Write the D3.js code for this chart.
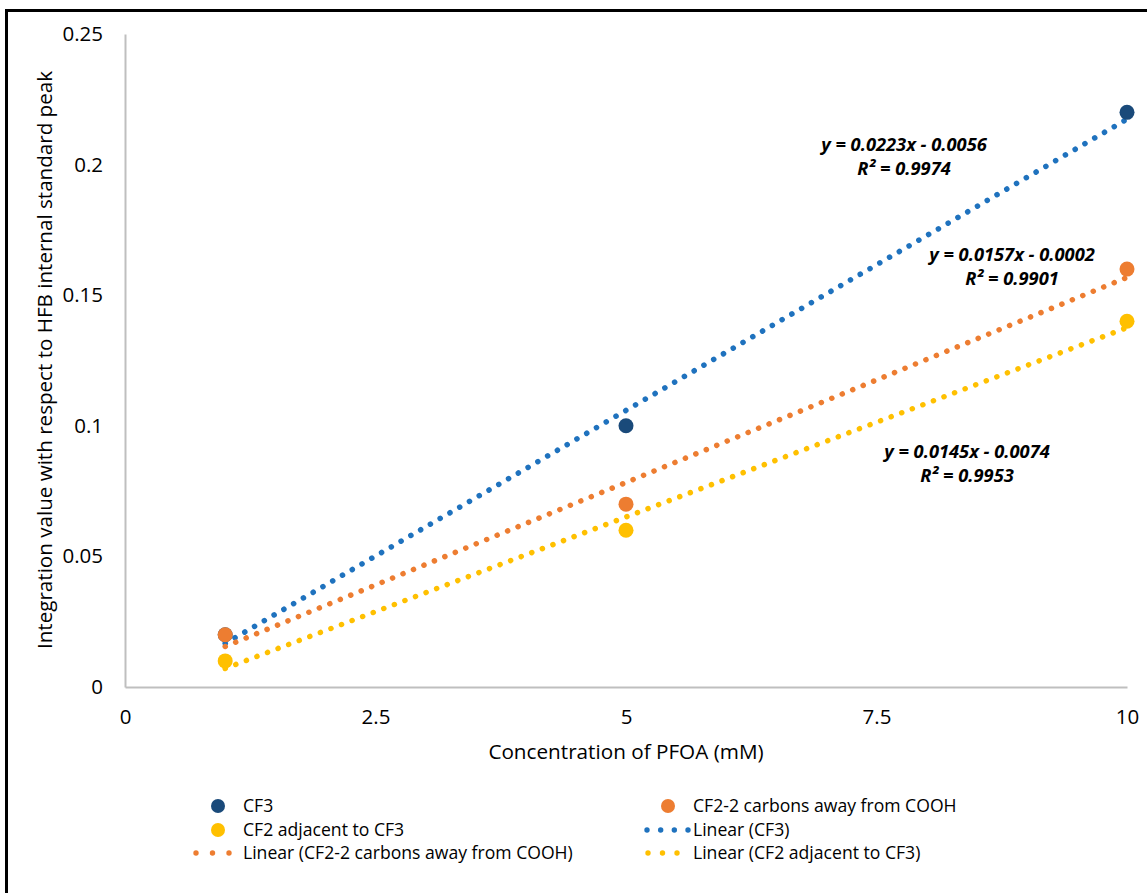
<!DOCTYPE html>
<html>
<head>
    <meta charset="utf-8">
    <title>PFOA calibration</title>
    <style type="text/css">
        body {
            margin: 0;
            background: #fff;
        }

        text {
            font-family: "Open Sans", Lato, "Noto Sans", sans-serif;
            fill: #000;
        }

        .eq {
            font-weight: bold;
            font-style: italic;
            font-size: 18.3px;
        }
    </style>
</head>
<body>
<script src="https://cdn.jsdelivr.net/npm/d3@7"></script>
<script type="text/javascript">
    // data
    var concentrations = [1, 5, 10];
    var cf3 = [0.02, 0.1, 0.22];
    var cf2Cooh = [0.02, 0.07, 0.16];
    var cf2Adj = [0.01, 0.06, 0.14];
    var xTicks = [0, 2.5, 5, 7.5, 10];
    var yTicks = [0, 0.05, 0.1, 0.15, 0.2, 0.25];

    // trendline fits as printed on the chart
    var fitSlopes = [0.0223, 0.0157, 0.0145];
    var fitIntercepts = [-0.0056, -0.0002, -0.0074];
    var fitLabels = [
        ["y = 0.0223x - 0.0056", "R\u00B2 = 0.9974"],
        ["y = 0.0157x - 0.0002", "R\u00B2 = 0.9901"],
        ["y = 0.0145x - 0.0074", "R\u00B2 = 0.9953"]
    ];

    var seriesNames = ["CF3", "CF2-2 carbons away from COOH", "CF2 adjacent to CF3"];
    var markerColors = ["#1a4a7a", "#ed7d31", "#ffc000"];
    var trendColors = ["#1f72be", "#ed7d31", "#ffc000"];

    var W = 1147, H = 893;
    var svg = d3.select("body").append("svg")
        .attr("width", W)
        .attr("height", H);

    // frame (image is cropped on the right and bottom)
    svg.append("path")
        .attr("d", "M6.5," + (H + 5) + "V10.5H" + (W + 5))
        .attr("fill", "none")
        .attr("stroke", "#000")
        .attr("stroke-width", 3);

    var x = d3.scaleLinear().domain([0, 10]).range([125, 1127]);
    var y = d3.scaleLinear().domain([0, 0.25]).range([687, 34]);

    // axes
    var xAxis = svg.append("g")
        .attr("transform", "translate(0," + y(0) + ")")
        .call(d3.axisBottom(x).tickValues(xTicks).tickSize(0).tickPadding(21)
            .tickFormat(function (d) { return d; }));
    var yAxis = svg.append("g")
        .attr("transform", "translate(" + x(0) + ",0)")
        .call(d3.axisLeft(y).tickValues(yTicks).tickSize(0).tickPadding(22)
            .tickFormat(function (d) { return d; }));
    [xAxis, yAxis].forEach(function (a) {
        a.select(".domain").attr("stroke", "#bfbfbf").attr("stroke-width", 2);
        a.selectAll("text").style("font-size", "20.5px")
            .style("font-family", "'Open Sans', Lato, sans-serif");
    });
    xAxis.selectAll("text").attr("dy", "0.8em");

    svg.append("text")
        .attr("x", 626).attr("y", 759)
        .attr("text-anchor", "middle")
        .style("font-size", "20.7px")
        .text("Concentration of PFOA (mM)");

    svg.append("text")
        .attr("transform", "translate(52,360) rotate(-90)")
        .attr("text-anchor", "middle")
        .style("font-size", "20.6px")
        .text("Integration value with respect to HFB internal standard peak");

    // trendlines (dotted)
    fitSlopes.forEach(function (m, i) {
        var b = fitIntercepts[i];
        var x0 = concentrations[0], x1 = concentrations[concentrations.length - 1];
        svg.append("line")
            .attr("x1", x(x0)).attr("y1", y(m * x0 + b))
            .attr("x2", x(x1)).attr("y2", y(m * x1 + b))
            .attr("stroke", trendColors[i])
            .attr("stroke-width", 5.5)
            .attr("stroke-linecap", "round")
            .attr("stroke-dasharray", "0.1 11.2");
    });

    // markers
    [cf3, cf2Cooh, cf2Adj].forEach(function (vals, i) {
        svg.append("g").selectAll("circle")
            .data(vals)
            .enter()
            .append("circle")
            .attr("cx", function (d, j) { return x(concentrations[j]); })
            .attr("cy", function (d) { return y(d); })
            .attr("r", 7.5)
            .attr("fill", markerColors[i]);
    });

    // equation labels
    var eqPos = [[904, 151], [1012, 261], [967, 458]];
    fitLabels.forEach(function (lines, i) {
        var t = svg.append("text")
            .attr("class", "eq")
            .attr("text-anchor", "middle")
            .attr("x", eqPos[i][0]).attr("y", eqPos[i][1]);
        t.append("tspan").attr("x", eqPos[i][0]).text(lines[0]);
        t.append("tspan").attr("x", eqPos[i][0]).attr("dy", 24).text(lines[1]);
    });

    // legend
    var legend = svg.append("g").style("font-size", "17.6px");
    var items = [
        {type: "dot", c: markerColors[0], label: seriesNames[0], col: 0, row: 0},
        {type: "dot", c: markerColors[1], label: seriesNames[1], col: 1, row: 0},
        {type: "dot", c: markerColors[2], label: seriesNames[2], col: 0, row: 1},
        {type: "line", c: trendColors[0], label: "Linear (" + seriesNames[0] + ")", col: 1, row: 1, from: 647, to: 688, n: 4},
        {type: "line", c: trendColors[1], label: "Linear (" + seriesNames[1] + ")", col: 0, row: 2, from: 196, to: 229, n: 3},
        {type: "line", c: trendColors[2], label: "Linear (" + seriesNames[2] + ")", col: 1, row: 2, from: 648, to: 677, n: 3}
    ];
    var colX = [243, 693], rowY = [806, 830, 853];
    items.forEach(function (it) {
        var tx = colX[it.col], ty = rowY[it.row];
        if (it.type === "dot") {
            legend.append("circle")
                .attr("cx", tx - 25).attr("cy", ty)
                .attr("r", 7)
                .attr("fill", it.c);
        } else {
            var step = (it.to - it.from) / (it.n - 1);
            legend.append("g").selectAll("circle")
                .data(d3.range(it.n))
                .enter()
                .append("circle")
                .attr("cx", function (k) { return it.from + k * step; })
                .attr("cy", ty)
                .attr("r", 2.7)
                .attr("fill", it.c);
        }
        legend.append("text")
            .attr("x", tx).attr("y", ty)
            .attr("dy", "0.35em")
            .text(it.label);
    });
</script>
</body>
</html>
